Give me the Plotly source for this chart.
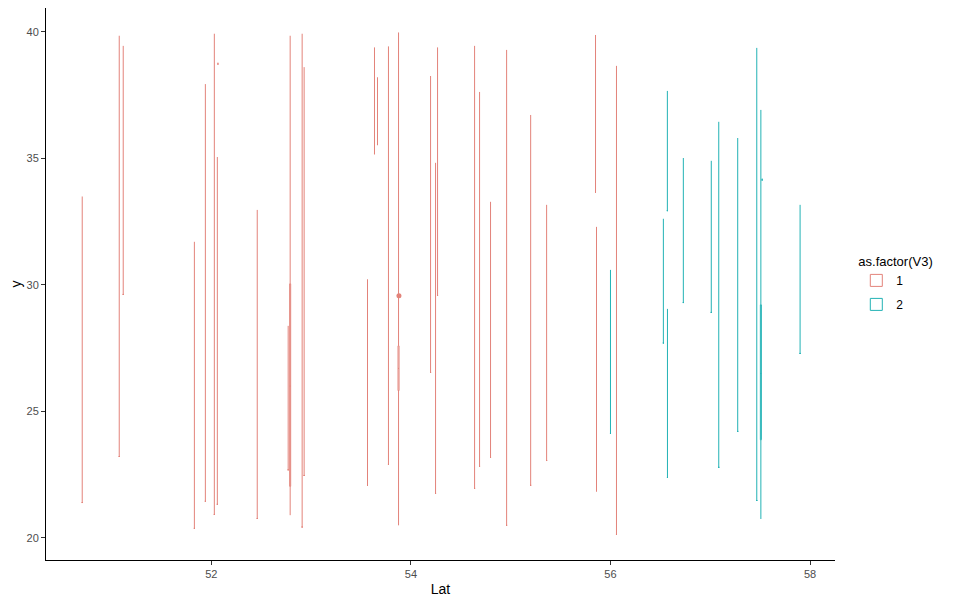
import plotly.graph_objs as go

# group 1 (V3 == 1): each entry is one narrow box at a latitude
lat1 = [50.706, 51.077, 51.117, 51.83, 51.94, 52.03, 52.06, 52.066, 52.46, 52.77,
        52.79, 52.91, 52.93, 53.565, 53.635, 53.665, 53.775, 53.876, 54.197, 54.247,
        54.267, 54.638, 54.688, 54.798, 54.959, 55.2, 55.36, 55.85, 55.86, 56.06]
lo1 = [21.4, 23.22, 29.62, 20.38, 21.45, 20.93, 21.33, 38.72, 20.77, 22.69,
       20.9, 20.43, 22.47, 22.08, 35.18, 35.54, 22.91, 20.5, 26.54, 21.76,
       29.58, 21.96, 22.83, 23.18, 20.5, 22.08, 23.06, 33.66, 21.86, 20.14]
q1_1 = [21.4, 23.22, 29.62, 20.38, 21.45, 20.93, 21.33, 38.72, 20.77, 22.69,
        22.04, 20.43, 22.47, 22.08, 35.18, 35.54, 22.91, 25.82, 26.54, 21.76,
        29.58, 21.96, 22.83, 23.18, 20.5, 22.08, 23.06, 33.66, 21.86, 20.14]
med1 = [21.4, 23.22, 29.62, 20.38, 21.45, 20.93, 21.33, 38.72, 20.77, 22.69,
        26.0, 20.43, 22.47, 22.08, 35.18, 35.54, 22.91, 26.7, 26.54, 21.76,
        29.58, 21.96, 22.83, 23.18, 20.5, 22.08, 23.06, 33.66, 21.86, 20.14]
q3_1 = [21.4, 23.22, 29.62, 20.38, 21.45, 20.93, 21.33, 38.72, 20.77, 22.69,
        30.04, 20.43, 22.47, 22.08, 35.18, 35.54, 22.91, 27.59, 26.54, 21.76,
        29.58, 21.96, 22.83, 23.18, 20.5, 22.08, 23.06, 33.66, 21.86, 20.14]
hi1 = [33.49, 39.84, 39.44, 31.7, 37.93, 39.92, 35.05, 38.78, 32.96, 28.38,
       39.84, 39.92, 38.6, 30.22, 39.38, 38.2, 39.42, 39.97, 38.25, 34.82,
       39.38, 39.44, 37.62, 33.28, 39.28, 36.71, 33.16, 39.87, 32.29, 38.65]

# group 2 (V3 == 2)
lat2 = [56.0, 56.53, 56.57, 56.571, 56.73, 57.01, 57.085, 57.275, 57.466, 57.507, 57.52, 57.9]
lo2 = [24.13, 27.7, 32.93, 22.39, 29.3, 28.91, 22.79, 24.21, 21.48, 20.75, 34.14, 27.29]
q1_2 = [24.13, 27.7, 32.93, 22.39, 29.3, 28.91, 22.79, 24.21, 21.48, 23.88, 34.14, 27.29]
med2 = [24.13, 27.7, 32.93, 22.39, 29.3, 28.91, 22.79, 24.21, 21.48, 26.5, 34.14, 27.29]
q3_2 = [24.13, 27.7, 32.93, 22.39, 29.3, 28.91, 22.79, 24.21, 21.48, 29.21, 34.14, 27.29]
hi2 = [30.59, 32.61, 37.66, 29.05, 35.01, 34.9, 36.44, 35.8, 39.36, 36.91, 34.2, 33.16]

# outlier point
out_lat = [53.88]
out_y = [29.57]

red = "#E3837A"
teal = "#22B2B5"

fig = go.Figure()
fig.add_trace(
    go.Box(
        x = lat1,
        lowerfence = lo1,
        q1 = q1_1,
        median = med1,
        q3 = q3_1,
        upperfence = hi1,
        name = "1",
        legendgroup = "1",
        width = 0.01,
        whiskerwidth = 0,
        line = {"color": red, "width": 1},
        fillcolor = "rgba(255,255,255,0)",
        boxpoints = False,
    )
)
fig.add_trace(
    go.Box(
        x = lat2,
        lowerfence = lo2,
        q1 = q1_2,
        median = med2,
        q3 = q3_2,
        upperfence = hi2,
        name = "2",
        legendgroup = "2",
        width = 0.01,
        whiskerwidth = 0,
        line = {"color": teal, "width": 1},
        fillcolor = "rgba(255,255,255,0)",
        boxpoints = False,
    )
)
fig.add_trace(
    go.Scatter(
        x = out_lat,
        y = out_y,
        mode = "markers",
        marker = {"color": red, "size": 5},
        legendgroup = "1",
        showlegend = False,
    )
)

axis_font = {"family": "Liberation Sans, Arial", "size": 11, "color": "#4D4D4D"}

# the page body adds an 8px offset, so the figure is sized/margined to compensate
fig.update_layout(
    width = 948,
    height = 597,
    paper_bgcolor = "white",
    plot_bgcolor = "white",
    font = {"family": "Liberation Sans, Arial", "color": "black"},
    margin = {"l": 38, "r": 121, "t": 0, "b": 45, "pad": 0},
    boxmode = "overlay",
    xaxis = {
        "title": {"text": "Lat", "font": {"size": 14}, "standoff": 4},
        "range": [50.343, 58.25],
        "tickvals": [52, 54, 56, 58],
        "showgrid": False,
        "zeroline": False,
        "showline": True,
        "linecolor": "black",
        "linewidth": 1,
        "ticks": "outside",
        "ticklen": 4,
        "tickcolor": "#333333",
        "tickfont": axis_font,
        "automargin": False,
    },
    yaxis = {
        "title": {"text": "y", "font": {"size": 14}, "standoff": 4},
        "range": [19.13, 40.936],
        "tickvals": [20, 25, 30, 35, 40],
        "showgrid": False,
        "zeroline": False,
        "showline": True,
        "linecolor": "black",
        "linewidth": 1,
        "ticks": "outside",
        "ticklen": 4,
        "tickcolor": "#333333",
        "tickfont": axis_font,
        "automargin": False,
    },
    showlegend = True,
    legend = {
        "title": {"text": "as.factor(V3)", "font": {"size": 13}},
        "font": {"size": 12},
        "x": 1.027,
        "xanchor": "left",
        "y": 0.5,
        "yanchor": "middle",
        "bgcolor": "rgba(0,0,0,0)",
        "tracegroupgap": 5,
    },
)

fig.write_html("out.html")
